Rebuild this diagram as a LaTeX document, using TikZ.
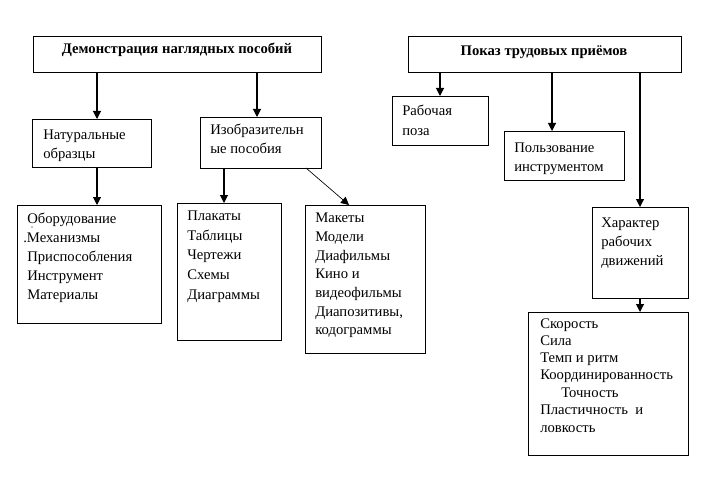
\documentclass[tikz,border=0pt]{standalone}
\usepackage{fontspec}
\setmainfont{Liberation Serif}
\usetikzlibrary{arrows.meta}
\newcommand{\mybox}[5]{\node[box, anchor=north west, minimum width={(#4-#2)*0.75pt}, minimum height={(#5-#3)*0.75pt}] (#1) at (#2,#3) {};}
\begin{document}
\begin{tikzpicture}[x=0.75pt,y=-0.75pt,
  box/.style={draw, line width=0.8pt, inner sep=0pt, rectangle},
  arr/.style={line width=0.8pt, -{Triangle[width=6pt,length=6pt]}},
  thinarr/.style={line width=0.5pt, -{Triangle[width=6pt,length=6pt]}},
  txt/.style={anchor=base west, inner sep=0pt, font=\fontsize{11}{14}\selectfont},
  hd/.style={anchor=base, inner sep=0pt, font=\fontsize{11}{14}\selectfont\bfseries}]
\useasboundingbox (0,0) rectangle (705,481);
% boxes
\mybox{dem}{33}{36}{321}{72}
\mybox{pok}{408}{36}{681}{72}
\mybox{nat}{32}{119}{151}{167}
\mybox{izo}{200}{117}{321}{168}
\mybox{obo}{17}{205}{161}{323}
\mybox{pla}{177}{203}{281}{340}
\mybox{mak}{305}{205}{425}{353}
\mybox{rab}{392}{96}{488}{145}
\mybox{pol}{504}{131}{624}{180}
\mybox{har}{592}{207}{688}{298}
\mybox{sko}{528}{312}{688}{455}
% x positions of connectors
\coordinate (xa) at (97,0);
\coordinate (xb) at (257,0);
\coordinate (xc) at (224,0);
\coordinate (xd) at (440,0);
\coordinate (xe) at (552,0);
\coordinate (xf) at (640,0);
\coordinate (ds) at (306,168);
\coordinate (de) at (349,205);
% connectors
\draw[arr] (dem.south -| xa) -- (nat.north -| xa);
\draw[arr] (dem.south -| xb) -- (izo.north -| xb);
\draw[arr] (nat.south -| xa) -- (obo.north -| xa);
\draw[arr] (izo.south -| xc) -- (pla.north -| xc);
\draw[thinarr] (ds) -- (de);
\draw[arr] (pok.south -| xd) -- (rab.north -| xd);
\draw[arr] (pok.south -| xe) -- (pol.north -| xe);
\draw[arr] (pok.south -| xf) -- (har.north -| xf);
\draw[arr] (har.south -| xf) -- (sko.north -| xf);
% texts
\node[hd] (t1) at (177,54) {Демонстрация наглядных пособий};
\node[hd] (t2) at (544,56) {Показ трудовых приёмов};
\node[txt] (n1) at (43,139) {Натуральные};
\node[txt] (n2) at (43,158) {образцы};
\node[txt] (i1) at (210,134) {Изобразительн};
\node[txt] (i2) at (210,153) {ые пособия};
\node[txt] (o1) at (27,223) {Оборудование};
\node[txt] (o2) at (23,242) {.Механизмы};
\node[txt] (o3) at (27,261) {Приспособления};
\node[txt] (o4) at (27,280) {Инструмент};
\node[txt] (o5) at (27,299) {Материалы};
\fill (32,227) circle (0.6);
\node[txt] (p1) at (187,220) {Плакаты};
\node[txt] (p2) at (187,240) {Таблицы};
\node[txt] (p3) at (187,259) {Чертежи};
\node[txt] (p4) at (187,279) {Схемы};
\node[txt] (p5) at (187,299) {Диаграммы};
\node[txt] (m1) at (315,222) {Макеты};
\node[txt] (m2) at (315,241) {Модели};
\node[txt] (m3) at (315,260) {Диафильмы};
\node[txt] (m4) at (315,278) {Кино и};
\node[txt] (m5) at (315,297) {видеофильмы};
\node[txt] (m6) at (315,316) {Диапозитивы,};
\node[txt] (m7) at (315,334) {кодограммы};
\node[txt] (r1) at (402,116) {Рабочая};
\node[txt] (r2) at (402,135) {поза};
\node[txt] (u1) at (514,152) {Пользование};
\node[txt] (u2) at (514,171) {инструментом};
\node[txt] (h1) at (601,227) {Характер};
\node[txt] (h2) at (601,246) {рабочих};
\node[txt] (h3) at (601,265) {движений};
\node[txt] (s1) at (540,328) {Скорость};
\node[txt] (s2) at (540,345) {Сила};
\node[txt] (s3) at (540,362) {Темп и ритм};
\node[txt] (s4) at (540,379) {Координированность};
\node[txt] (s5) at (561,397) {Точность};
\node[txt] (s6) at (540,414) {Пластичность\ \ и};
\node[txt] (s7) at (540,432) {ловкость};
\end{tikzpicture}
\end{document}
